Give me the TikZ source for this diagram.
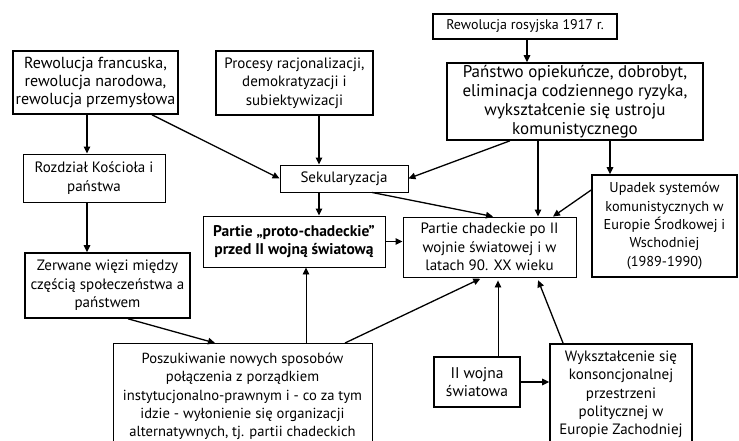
\documentclass[tikz,border=0pt]{standalone}
\usepackage{fontspec}
\setmainfont{PT Sans}
\usetikzlibrary{arrows.meta,calc}
\newcommand{\fsz}[1]{\fontsize{#1}{18.4pt}\selectfont}
\tikzset{
  box/.style={draw=black, line width=0.9pt, inner sep=0pt, align=center, font=\fsz{15pt}, fill=white},
  thick box/.style={box, line width=1.6pt},
  arr/.style={line width=1.3pt, -{Triangle[length=7pt,width=6.5pt]}},
  thinarr/.style={line width=0.9pt, -{Triangle[length=7pt,width=6.5pt]}}
}
\begin{document}
\begin{tikzpicture}[x=1pt,y=-1pt]
\useasboundingbox (0,0) rectangle (739,441);
\clip (0,0) rectangle (739,441);
\fill[white] (0,0) rectangle (739,441);

\node[thick box, font=\fsz{16pt}, minimum width=165pt, minimum height=63pt] (rf) at (95.5,82.5)
  {Rewolucja francuska,\\rewolucja narodowa,\\rewolucja przemysłowa};
\node[thick box, minimum width=157pt, minimum height=64pt] (pr) at (294.5,83)
  {Procesy racjonalizacji,\\demokratyzacji i\\subiektywizacji};
\node[box, line width=1.2pt, font=\fsz{14pt}, minimum width=184pt, minimum height=25pt] (rr) at (525,26.5)
  {Rewolucja rosyjska 1917 r.};
\node[thick box, font=\fontsize{17pt}{19pt}\selectfont, minimum width=256pt, minimum height=77pt] (po) at (575,101.5)
  {Państwo opiekuńcze, dobrobyt,\\eliminacja codziennego ryzyka,\\wykształcenie się ustroju\\komunistycznego};
\node[box, minimum width=142pt, minimum height=48pt] (rk) at (94,178)
  {Rozdział Kościoła i\\państwa};
\node[box, minimum width=128pt, minimum height=27pt] (sk) at (344,178.5)
  {Sekularyzacja};
\node[box, minimum width=182pt, minimum height=51pt, font=\fsz{15.5pt}\bfseries] (pp) at (294,241.5)
  {Partie „proto-chadeckie”\\przed II wojną światową};
\node[box, minimum width=173pt, minimum height=60pt] (pc) at (489.5,247)
  {Partie chadeckie po II\\wojnie światowej i w\\latach 90. XX wieku};
\node[thick box, font=\fsz{14.3pt}, minimum width=145pt, minimum height=102pt] (up) at (664.5,226)
  {Upadek systemów\\komunistycznych w\\Europie Środkowej i\\Wschodniej\\(1989-1990)};
\node[thick box, minimum width=165pt, minimum height=65pt] (zw) at (107.5,285.5)
  {Zerwane więzi między\\częścią społeczeństwa a\\państwem};
\node[box, font=\fsz{14.6pt}, anchor=north, minimum width=259pt, minimum height=106pt] (ps) at (242.5,343)
  {Poszukiwanie nowych sposobów\\połączenia z porządkiem\\instytucjonalno-prawnym i - co za tym\\idzie - wyłonienie się organizacji\\alternatywnych, tj. partii chadeckich};
\node[box, line width=1.3pt, font=\fsz{15.5pt}, minimum width=86pt, minimum height=50pt] (iw) at (477,382)
  {II wojna\\światowa};
\node[thick box, anchor=north, minimum width=142pt, minimum height=101pt] (wy) at (621,343)
  {Wykształcenie się\\konsoncjonalnej\\przestrzeni\\politycznej w\\Europie Zachodniej};

% connectors
\draw[arr] ([xshift=-8.5pt]rf.south) -- ([xshift=-8.5pt]rf.south |- rk.north);
\draw[arr] ([xshift=56.5pt]rf.south) -- (sk.west);
\draw[arr] ([xshift=24.5pt]pr.south) -- ([xshift=24.5pt]pr.south |- sk.north);
\draw[arr] ([xshift=-7pt]rk.south) -- ([xshift=-7pt]rk.south |- zw.north);
\draw[arr] ([xshift=20.5pt]zw.south) -- ([xshift=-27.5pt]ps.north);
\draw[thinarr] ([xshift=63.5pt]ps.north) -- ([xshift=63.5pt]ps.north |- pp.south);
\draw[arr, shorten >=3pt] ([xshift=102.5pt]ps.north) -- ([xshift=-6.5pt]pc.south);
\draw[arr] ([xshift=-25pt]sk.south) -- ([xshift=-25pt]sk.south |- pp.north);
\draw[arr] ([xshift=28pt]sk.south) -- ([xshift=3.5pt]pc.north);
\draw[arr] (pp.east) -- (pp.east -| pc.west);
\draw[arr] ([xshift=2pt]rr.south) -- ([xshift=2pt]rr.south |- po.north);
\draw[arr] ([xshift=-65pt]po.south) -- (sk.east);
\draw[arr] ([xshift=-37pt]po.south) -- ([xshift=-37pt]po.south |- pc.north);
\draw[arr] ([xshift=35pt]po.south) -- ([xshift=35pt]po.south |- up.north);
\draw[arr] ([yshift=36pt]up.west) -- ([xshift=63.5pt]pc.north);
\draw[thinarr, shorten >=3pt] ([xshift=21pt]iw.north) -- ([xshift=21pt]iw.north |- pc.south);
\draw[arr] (iw.east) -- (iw.east -| wy.west);
\draw[arr, shorten >=3pt] ([xshift=-58pt]wy.north) -- ([xshift=47.5pt]pc.south);
\end{tikzpicture}
\end{document}
